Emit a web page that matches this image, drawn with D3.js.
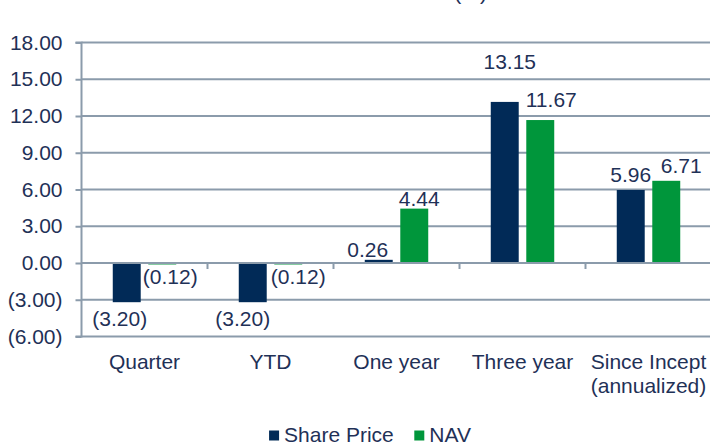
<!DOCTYPE html>
<html>
<head>
<meta charset="utf-8">
<script src="https://cdn.jsdelivr.net/npm/d3@7"></script>
<style>
    body { margin: 0; background: #fff; }
    svg text { font-family: "Liberation Sans", Arial, sans-serif; fill: #1f3157; }
</style>
</head>
<body>
<div id="chart"></div>
<script>
// data
const categories = ["Quarter", "YTD", "One year", "Three year", "Since Incept|(annualized)"];
const seriesNames = ["Share Price", "NAV"];
const sharePrice = [-3.20, -3.20, 0.26, 13.15, 5.96];
const nav = [-0.12, -0.12, 4.44, 11.67, 6.71];
const yTicks = [-6, -3, 0, 3, 6, 9, 12, 15, 18];

// label nudges (px) so labels land where the original put them
const labelNudge = {
    "Share Price": [[-7, 24], [-10, 24], [-11, -3], [5, -33], [0, -8]],
    "NAV": [[8, 20], [10, 20], [5, -3], [11, -13], [15, -8]]
};

const colors = {"Share Price": "#012a57", "NAV": "#00963b"};

const width = 710, height = 442;
const margin = {left: 81.5, top: 42.5, bottom: 105.5};

const svg = d3.select("#chart").append("svg")
    .attr("width", width)
    .attr("height", height);

const x0 = d3.scaleBand()
    .domain(categories)
    .range([margin.left, margin.left + 5 * 126])
    .padding(0);

const x1 = d3.scaleBand()
    .domain(seriesNames)
    .range([0, x0.bandwidth()])
    .paddingInner(0.213)
    .paddingOuter(0.88);

const y = d3.scaleLinear()
    .domain([-6, 18])
    .range([height - margin.bottom, margin.top]);

const fmt = v => v < 0 ? "(" + d3.format(".2f")(-v) + ")" : d3.format(".2f")(v);

// title (cut off at the top of the original)
svg.append("text")
    .attr("x", 487)
    .attr("y", -0.5)
    .attr("text-anchor", "end")
    .style("font-size", "21px")
    .text("(%)");

// gridlines
svg.append("g")
    .selectAll("line")
    .data(yTicks)
    .enter()
    .append("line")
    .attr("x1", margin.left)
    .attr("x2", width)
    .attr("y1", d => y(d))
    .attr("y2", d => y(d))
    .attr("stroke", "#8b9bab")
    .attr("stroke-width", 2);

// y axis
const yAxis = d3.axisLeft(y)
    .tickValues(yTicks)
    .tickSize(6)
    .tickPadding(13)
    .tickFormat(fmt);

svg.append("g")
    .attr("class", "y-axis")
    .attr("transform", `translate(${margin.left},0)`)
    .call(yAxis)
    .call(g => g.selectAll("line, path").attr("stroke", "#8b9bab").attr("stroke-width", 2))
    .call(g => g.select(".domain").attr("d", `M-6,${y(-6)}H0V${y(18)}H-6`))
    .call(g => g.selectAll("text")
        .style("font-size", "21px")
        .attr("fill", "#1f3157")
        .attr("font-family", "Liberation Sans, Arial, sans-serif"));

// bars
const rows = categories.map((c, i) => ({cat: c, values: [
    {name: "Share Price", value: sharePrice[i], i: i},
    {name: "NAV", value: nav[i], i: i}
]}));

const groups = svg.append("g")
    .selectAll("g")
    .data(rows)
    .enter()
    .append("g")
    .attr("transform", d => `translate(${x0(d.cat)},0)`);

groups.selectAll("rect")
    .data(d => d.values)
    .enter()
    .append("rect")
    .attr("x", d => x1(d.name))
    .attr("width", x1.bandwidth())
    .attr("y", d => y(Math.max(0, d.value)))
    .attr("height", d => Math.abs(y(d.value) - y(0)))
    .attr("fill", d => colors[d.name]);

// category axis line at zero with tick marks below
svg.append("line")
    .attr("x1", margin.left)
    .attr("x2", width)
    .attr("y1", y(0))
    .attr("y2", y(0))
    .attr("stroke", "#8b9bab")
    .attr("stroke-width", 2);

svg.append("g")
    .selectAll("line")
    .data(categories.slice(1))
    .enter()
    .append("line")
    .attr("x1", d => x0(d))
    .attr("x2", d => x0(d))
    .attr("y1", y(0))
    .attr("y2", y(0) + 6)
    .attr("stroke", "#8b9bab")
    .attr("stroke-width", 2);

// data labels
groups.selectAll("text.label")
    .data(d => d.values)
    .enter()
    .append("text")
    .attr("class", "label")
    .attr("text-anchor", "middle")
    .style("font-size", "21px")
    .attr("x", d => x1(d.name) + x1.bandwidth() / 2 + labelNudge[d.name][d.i][0])
    .attr("y", d => y(d.value) + labelNudge[d.name][d.i][1])
    .text(d => fmt(d.value));

// category labels
svg.append("g")
    .selectAll("text")
    .data(categories)
    .enter()
    .append("text")
    .attr("text-anchor", "middle")
    .style("font-size", "21px")
    .attr("x", d => x0(d) + x0.bandwidth() / 2)
    .attr("y", 369)
    .each(function(d) {
        const lines = d.split("|");
        const t = d3.select(this);
        lines.forEach((l, k) => {
            t.append("tspan")
                .attr("x", x0(d) + x0.bandwidth() / 2)
                .attr("dy", k === 0 ? 0 : 24)
                .text(l);
        });
    });

// legend
const legend = svg.append("g").attr("class", "legend");
let lx = 0;
seriesNames.forEach((name, i) => {
    const item = legend.append("g").attr("transform", `translate(${lx},0)`);
    item.append("rect")
        .attr("x", 0)
        .attr("y", -11)
        .attr("width", 10)
        .attr("height", 10)
        .attr("fill", colors[name]);
    const t = item.append("text")
        .attr("x", 15)
        .attr("y", 0)
        .style("font-size", "21px")
        .text(name);
    lx += 15 + t.node().getComputedTextLength() + 20.5;
});
const lw = lx - 20.5;
legend.attr("transform", `translate(${370 - lw / 2},441.5)`);
</script>
</body>
</html>
